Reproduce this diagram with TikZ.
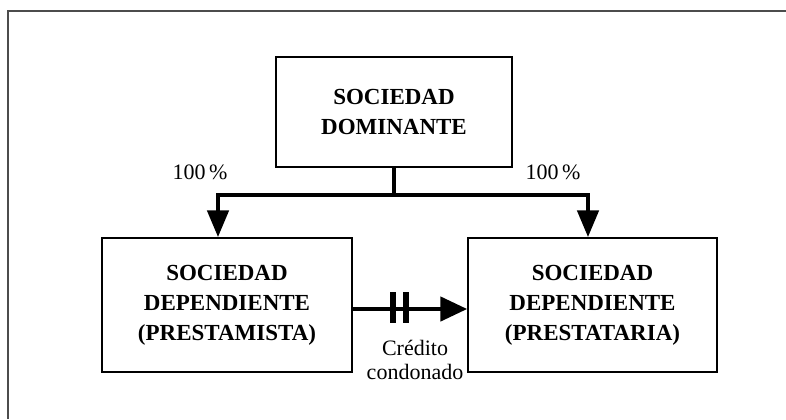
\documentclass[tikz,border=0pt]{standalone}
\usepackage{fontspec}
\setmainfont{Liberation Serif}
\usetikzlibrary{arrows.meta}
\tikzset{
  caja/.style={draw, line width=0.75pt, align=center, inner sep=0pt,
    font=\fontsize{11.5}{15}\selectfont\bfseries},
  flecha/.style={line width=2.4pt, -{Triangle[length=13.5pt,width=10.5pt]}},
  etiq/.style={font=\fontsize{11}{12}\selectfont, align=center, inner sep=0pt}
}
\begin{document}
\begin{tikzpicture}[x=0.5pt,y=-0.5pt]
\useasboundingbox (0,0) rectangle (786,419);
\draw[line width=1.4pt, black!70] (8,419) -- (8,11) -- (786,11);
\node[caja, minimum width=118pt, minimum height=55pt] (dom) at (394,112){SOCIEDAD\\DOMINANTE};
\node[caja, minimum width=125pt, minimum height=67pt] (dep1) at (227,305){SOCIEDAD\\DEPENDIENTE\\(PRESTAMISTA)};
\node[caja, minimum width=124.5pt, minimum height=67pt] (dep2) at (592.5,305){SOCIEDAD\\DEPENDIENTE\\(PRESTATARIA)};
\coordinate (rama) at (394,195);
\draw[flecha] (dom.south) -- (rama) -| ([xshift=-4.5pt]dep1.north);
\draw[flecha] (rama) -| ([xshift=-2.25pt]dep2.north);
\node[etiq] (p1) at (200,172){100\,\%};
\node[etiq] (p2) at (553,172){100\,\%};
\draw[flecha, -{Triangle[length=13.5pt,width=12pt]}] ([yshift=-2pt]dep1.east) -- ([yshift=-2pt]dep2.west);
\draw[line width=3pt] (393,292) -- (393,323);
\draw[line width=3pt] (406,292) -- (406,323);
\node[etiq] (cred) at (415,360){Crédito\\condonado};
\end{tikzpicture}
\end{document}
